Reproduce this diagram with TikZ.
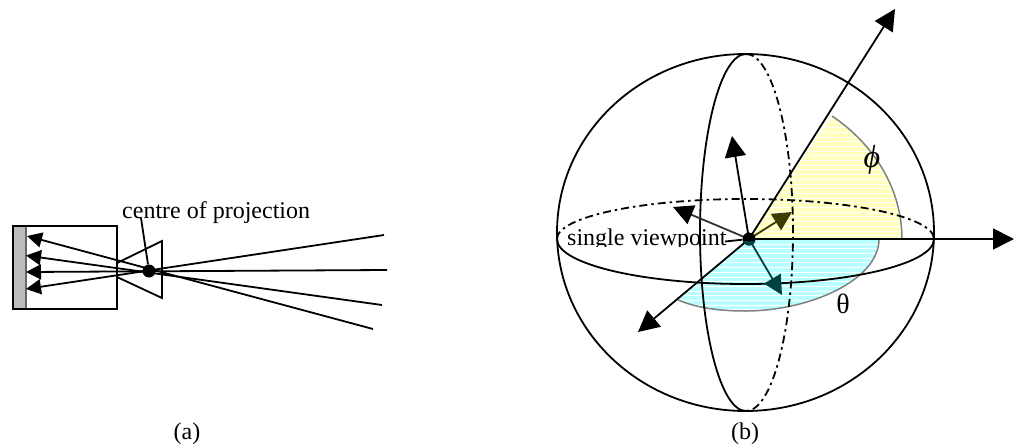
\documentclass[tikz,border=0pt]{standalone}
\usepackage{fontspec}
\setmainfont{Liberation Serif}
\usepackage{xcolor}
\usetikzlibrary{arrows.meta,positioning,calc}
\definecolor{phifill}{RGB}{255,255,190}
\definecolor{thetafill}{RGB}{185,255,255}
\definecolor{phihead}{RGB}{60,60,0}
\definecolor{thetahead}{RGB}{0,65,65}
\definecolor{sensorgray}{RGB}{188,188,188}
\tikzset{
	pixline/.style={line width=1.8pt,line join=miter},
	raytip/.style={pixline,-{Triangle[length=15pt,width=15pt]}},
	axistip/.style={pixline,-{Triangle[length=21pt,width=21pt]}},
	viewtip/.style={pixline,-{Triangle[length=19pt,width=19pt]}},
	hiddenline/.style={pixline,dash pattern=on 8pt off 4pt on 2.5pt off 4pt},
	labeltext/.style={font=\fontsize{24}{28}\selectfont,inner sep=0pt,text height=16pt,text depth=5pt}
}
\begin{document}
\begin{tikzpicture}[x=1pt,y=-1pt]
	\useasboundingbox (0,0) rectangle (1014,447);
	
	% (a) image plane and camera box
	\draw[line width=1.5pt,draw=black!60,fill=sensorgray] (13,226) rectangle (26,309);
	\draw[pixline] (13,226) rectangle (117,309);
	
	% lens cone
	\draw[pixline] (117,263)--(162,241)--(162,298)--(117,277);
	
	% centre of projection
	\node[circle,fill=black,minimum size=13pt,inner sep=0pt] (cop) at (149,271) {};
	
	% rays through the centre
	\coordinate (rayendA) at (384,235);
	\coordinate (rayendB) at (387,270);
	\coordinate (rayendC) at (382,305);
	\coordinate (rayendD) at (373,329);
	\coordinate (raytipA) at (26,289);
	\coordinate (raytipB) at (26,272);
	\coordinate (raytipC) at (26,255.5);
	\coordinate (raytipD) at (27,236);
	\foreach \r in {A,B,C,D}{
		\draw[raytip] (rayend\r)--(raytip\r);
	}
	
	\node[labeltext,anchor=base west] (coplabel) at (122,218) {centre of projection};
	\coordinate (coplead) at (141,218);
	\draw[pixline] (coplead)--(cop);
	\node[labeltext,anchor=base] (alabel) at (187,439) {(a)};
	
	% (b) shaded angle regions
	\coordinate (view) at (749,239);
	\fill[phifill] (view)--(832,116) .. controls (875,145) and (902,190) .. (902,239)--cycle;
	\fill[thetafill] (view)--(879,239) .. controls (879,280) and (810,311) .. (745,311) .. controls (720,311) and (697,308) .. (678,300)--cycle;
	\begin{scope}
		\clip (740,100) rectangle (910,239);
		\foreach \y in {104,108.7,...,239}{
			\draw[white,line width=0.7pt] (740,\y)--(910,\y);
		}
	\end{scope}
	\begin{scope}
		\clip (670,240) rectangle (885,315);
		\foreach \y in {244,248.7,...,315}{
			\draw[white,line width=0.7pt] (670,\y)--(885,\y);
		}
	\end{scope}
	\draw[line width=1.5pt,gray] (832,116) .. controls (875,145) and (902,190) .. (902,239);
	\draw[line width=1.5pt,gray] (879,239) .. controls (879,280) and (810,311) .. (745,311) .. controls (720,311) and (697,308) .. (678,300);
	
	% sphere
	\draw[pixline] (745.5,232.5) ellipse [x radius=188.5,y radius=178.5];
	
	% equator
	\draw[pixline] (934,239) arc [start angle=0,end angle=180,x radius=188.5,y radius=45];
	\draw[hiddenline] (557,239) arc [start angle=180,end angle=360,x radius=188.5,y radius=40];
	
	% meridian
	\draw[pixline] (746,411) arc [start angle=90,end angle=270,x radius=46,y radius=178.5];
	\draw[hiddenline] (746,54) arc [start angle=-90,end angle=90,x radius=47,y radius=178.5];
	
	% axes
	\coordinate (axistipA) at (895,9);
	\coordinate (axistipB) at (1014,239);
	\coordinate (axistipC) at (638,332);
	\foreach \a in {A,B,C}{
		\draw[axistip] (view)--(axistip\a);
	}
	
	% viewing directions
	\coordinate (viewtipA) at (732,136);
	\coordinate (viewtipB) at (673,207);
	\coordinate (viewtipC) at (792,212);
	\coordinate (viewtipD) at (782,295);
	\draw[axistip] (view)--(viewtipA);
	\draw[pixline,draw=black!80,-{Triangle[length=20pt,width=20pt,black]}] (view)--(viewtipB);
	\draw[viewtip,draw=phihead,fill=phihead] (view)--(viewtipC);
	\draw[viewtip,draw=thetahead,fill=thetahead] (view)--(viewtipD);
	
	% single viewpoint
	\node[circle,fill=black,minimum size=13pt,inner sep=0pt] (viewdot) at (view) {};
	\begin{scope}
		\clip (740,241) rectangle (758,247);
		\fill[thetahead] (view) circle (6.5);
	\end{scope}
	\begin{scope}
		\clip (560,215) rectangle (730,246);
		\node[labeltext,anchor=base west] (viewlabel) at (567,245) {single viewpoint};
	\end{scope}
	\coordinate (viewlead) at (725,241.5);
	\draw[pixline] (viewlead)--(viewdot);
	
	% angle labels
	\node[inner sep=0pt,font=\fontsize{32}{32}\selectfont\itshape] (philabel) at (872,160) {ϕ};
	\node[inner sep=0pt,font=\fontsize{28}{28}\selectfont] (thetalabel) at (843,304) {θ};
	\node[labeltext,anchor=base] (blabel) at (745,439) {(b)};
\end{tikzpicture}
\end{document}
